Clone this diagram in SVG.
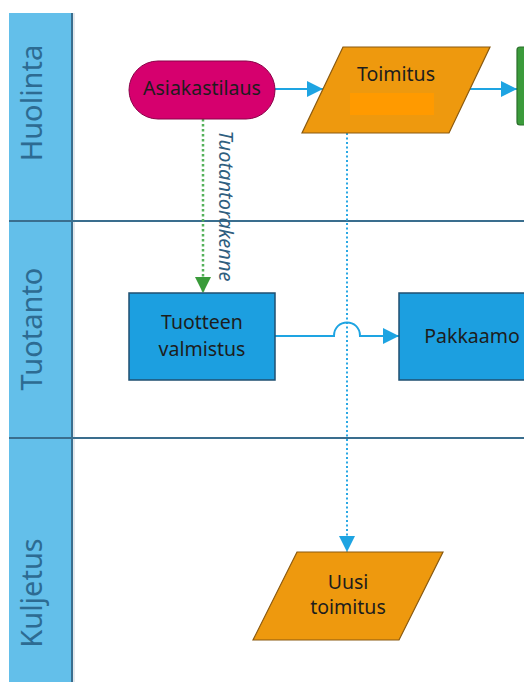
<svg xmlns="http://www.w3.org/2000/svg" width="524" height="682" viewBox="0 0 524 682">
  <style>
    .lane-head { fill: #63bfea; }
    .lane-title { font-family: "Noto Sans", "Open Sans", sans-serif; font-size: 29px; fill: #2d6b92; text-anchor: middle; }
    .sep { stroke: #3a6e8e; stroke-width: 2; }
    .lbl { font-family: "Noto Sans", "Open Sans", sans-serif; font-size: 19.5px; fill: #1d1d1d; text-anchor: middle; }
    .proc { fill: #1c9fe0; stroke: #1f4f70; stroke-width: 1.5; }
    .data { fill: #ee990e; stroke: #8a5a10; stroke-width: 1.2; }
    .flow { fill: none; stroke: #1ea4e2; stroke-width: 2; }
    .dotblue { fill: none; stroke: #2aa8e4; stroke-width: 2; stroke-dasharray: 2 2.5; }
    .dotgreen { fill: none; stroke: #55b15a; stroke-width: 2.5; stroke-dasharray: 2.5 2.5; }
    .edge-lbl { font-family: "Noto Sans", "Open Sans", sans-serif; font-size: 20px; font-style: italic; fill: #2f5f80; text-anchor: middle; }
  </style>
  <defs>
    <marker id="arrBlueBig" viewBox="0 0 10 10" refX="10" refY="5" markerWidth="20" markerHeight="16" markerUnits="userSpaceOnUse" orient="auto">
      <path d="M0,0 L10,5 L0,10 Z" fill="#1ea4e2"/>
    </marker>
    <marker id="arrGreen" viewBox="0 0 10 10" refX="10" refY="5" markerWidth="20" markerHeight="16" markerUnits="userSpaceOnUse" orient="auto">
      <path d="M0,0 L10,5 L0,10 Z" fill="#3a9b3a"/>
    </marker>
  </defs>

  <rect x="0" y="0" width="524" height="682" fill="#ffffff"/>

  <!-- swimlane headers -->
  <g id="lanes">
    <rect class="lane-head" x="9" y="13" width="63" height="669"/>
    <line x1="72" y1="13" x2="72" y2="682" stroke="#3a6e8e" stroke-width="2"/>
    <line x1="74" y1="13" x2="74" y2="682" stroke="#e3e8ec" stroke-width="2"/>
    <line class="sep" x1="9" y1="221" x2="524" y2="221"/>
    <line class="sep" x1="9" y1="438" x2="524" y2="438"/>
    <text class="lane-title" transform="translate(42,103) rotate(-90)">Huolinta</text>
    <text class="lane-title" transform="translate(42,329) rotate(-90)">Tuotanto</text>
    <text class="lane-title" transform="translate(42,593) rotate(-90)">Kuljetus</text>
  </g>

  <!-- connectors -->
  <g id="connectors">
    <line class="flow" x1="275" y1="89" x2="323" y2="89" marker-end="url(#arrBlueBig)"/>
    <line class="flow" x1="470" y1="89" x2="517" y2="89" marker-end="url(#arrBlueBig)"/>
    <line class="dotblue" x1="347" y1="133" x2="347" y2="552" marker-end="url(#arrBlueBig)"/>
    <path class="flow" d="M275,336 H334 C334,318 360,318 360,336 H399" marker-end="url(#arrBlueBig)"/>
    <line class="dotgreen" x1="203" y1="119" x2="203" y2="293" marker-end="url(#arrGreen)"/>
    <text class="edge-lbl" transform="translate(219,206) rotate(90)">Tuotantorakenne</text>
  </g>

  <!-- nodes -->
  <g id="asiakastilaus">
    <rect x="129" y="61" width="146" height="58" rx="29" fill="#d6006e" stroke="#8a0048" stroke-width="1"/>
    <text class="lbl" x="202" y="95">Asiakastilaus</text>
  </g>

  <g id="toimitus">
    <polygon class="data" points="343,47 490,47 449,133 302,133"/>
    <text class="lbl" x="396" y="81">Toimitus</text>
    <rect x="350" y="93" width="84" height="22" fill="#ff9a00"/>
  </g>

  <g id="seuraava">
    <rect x="517" y="47" width="30" height="78" rx="3" fill="#3b9b3b" stroke="#2a6e2a" stroke-width="1.2"/>
  </g>

  <g id="tuotteen-valmistus">
    <rect class="proc" x="129" y="293" width="146" height="87"/>
    <text class="lbl" x="202" y="329">Tuotteen</text>
    <text class="lbl" x="202" y="356">valmistus</text>
  </g>

  <g id="pakkaamo">
    <rect class="proc" x="399" y="293" width="146" height="87"/>
    <text class="lbl" x="472" y="343">Pakkaamo</text>
  </g>

  <g id="uusi-toimitus">
    <polygon class="data" points="297,552 443,552 399,640 253,640"/>
    <text class="lbl" x="348" y="589">Uusi</text>
    <text class="lbl" x="348" y="614">toimitus</text>
  </g>
</svg>
